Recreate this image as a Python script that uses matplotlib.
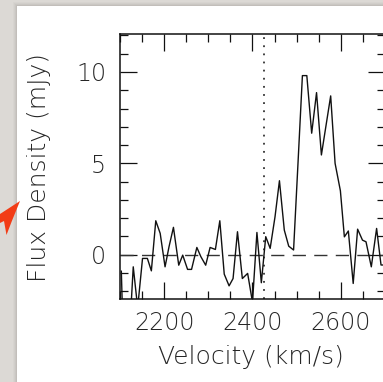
import numpy as np
import matplotlib
matplotlib.use("Agg")
import matplotlib.pyplot as plt
from matplotlib.patches import Rectangle, Polygon
from matplotlib.ticker import MultipleLocator

# spectrum (velocity in km/s, flux density in mJy)
velocity = [2103, 2109, 2120, 2130, 2140, 2151, 2162, 2171, 2181, 2191,
            2202, 2211, 2221, 2233, 2242, 2253, 2262, 2274, 2283, 2294,
            2304, 2316, 2326, 2336, 2347, 2356, 2366, 2377, 2389, 2400,
            2410, 2420, 2430, 2440, 2451, 2461, 2472, 2482, 2493, 2503,
            2513, 2523, 2534, 2545, 2556, 2566, 2577, 2587, 2599, 2608,
            2617, 2628, 2638, 2649, 2657, 2669, 2681, 2691, 2698, 2709]
flux = [-0.9, -6.0, -5.0, -0.66, -2.9, -0.2, -0.2, -0.88, 1.86, 1.17,
        -0.66, 0.44, 1.5, -0.57, -0.02, -0.8, -0.8, 0.4, -0.1, -0.57,
        0.4, 0.29, 1.86, -1.06, -1.7, -1.3, 1.26, -1.3, -1.02, -2.6,
        1.22, -1.53, 0.99, 0.35, 2.08, 4.05, 1.35, 0.47, 0.26, 5.0,
        9.8, 9.8, 6.65, 8.87, 5.46, 7.0, 8.69, 5.0, 3.5, 0.98,
        1.3, -1.57, 1.4, 0.8, 0.71, -0.66, 1.44, -0.56, -0.56, 0.5]
systemic_velocity = 2425
xticks_major = [2200, 2400, 2600]
yticks_major = [0, 5, 10]

W, H = 383, 382
fig = plt.figure(figsize=(W / 100, H / 100), dpi=100)
fig.patch.set_facecolor("#dcd9d5")

# soft shadow + white page the chart sits on
for i, a in enumerate([0.05, 0.07, 0.09, 0.12]):
    d = 4 - i
    fig.patches.append(Rectangle(((17 - d) / W, 0), 1, (H - 6 + d) / H,
                                 transform=fig.transFigure, color="#8a8580",
                                 alpha=a, zorder=-2, lw=0))
fig.patches.append(Rectangle((17 / W, 0), 1, (H - 6) / H, transform=fig.transFigure,
                             color="white", zorder=-1, lw=0))

# red arrow head poking in from the left
arrow = [(20, 201), (0, 214), (0, 223), (4, 221), (6.5, 235), (11.5, 222)]
fig.patches.append(Polygon([(x / W, 1 - y / H) for x, y in arrow], closed=True,
                           transform=fig.transFigure, color="#f23c16", lw=0, zorder=3))

ax = fig.add_axes([120 / W, 1 - 299 / H, 265 / W, 264.7 / H])
ax.set_zorder(2)
ax.set_facecolor("white")

ax.plot(velocity, flux, color="#111111", lw=1.0, zorder=3)
ax.axhline(0, color="#333333", lw=1.0, dashes=(9.5, 6), zorder=2)
ax.axvline(systemic_velocity, color="#333333", lw=1.3, dashes=(1, 3.5), zorder=2)

ax.set_xlim(2100, 2700)
ax.set_ylim(-2.42, 12.06)
ax.set_xticks(xticks_major)
ax.set_yticks(yticks_major)
ax.xaxis.set_minor_locator(MultipleLocator(50))
ax.yaxis.set_minor_locator(MultipleLocator(1))

txt = "#262626"
ax.tick_params(which="both", direction="in", top=True, right=True,
               color="#111111", width=0.9, labelcolor=txt, labelsize=17)
ax.tick_params(which="major", length=12)
ax.tick_params(which="minor", length=6)
ax.tick_params(axis="x", pad=9)
ax.tick_params(axis="y", pad=10)
for lab in ax.get_xticklabels() + ax.get_yticklabels():
    lab.set_fontweight("light")
for s in ax.spines.values():
    s.set_linewidth(1.1)
    s.set_color("#111111")

ax.set_xlabel("Velocity (km/s)", fontsize=18, color=txt, fontweight="light")
ax.set_ylabel("Flux Density (mJy)", fontsize=18, color=txt, fontweight="light")
ax.xaxis.set_label_coords(0.493, -0.172)
ax.yaxis.set_label_coords(-0.26, 0.497)

fig.savefig("out.png", dpi=100, facecolor=fig.get_facecolor())
